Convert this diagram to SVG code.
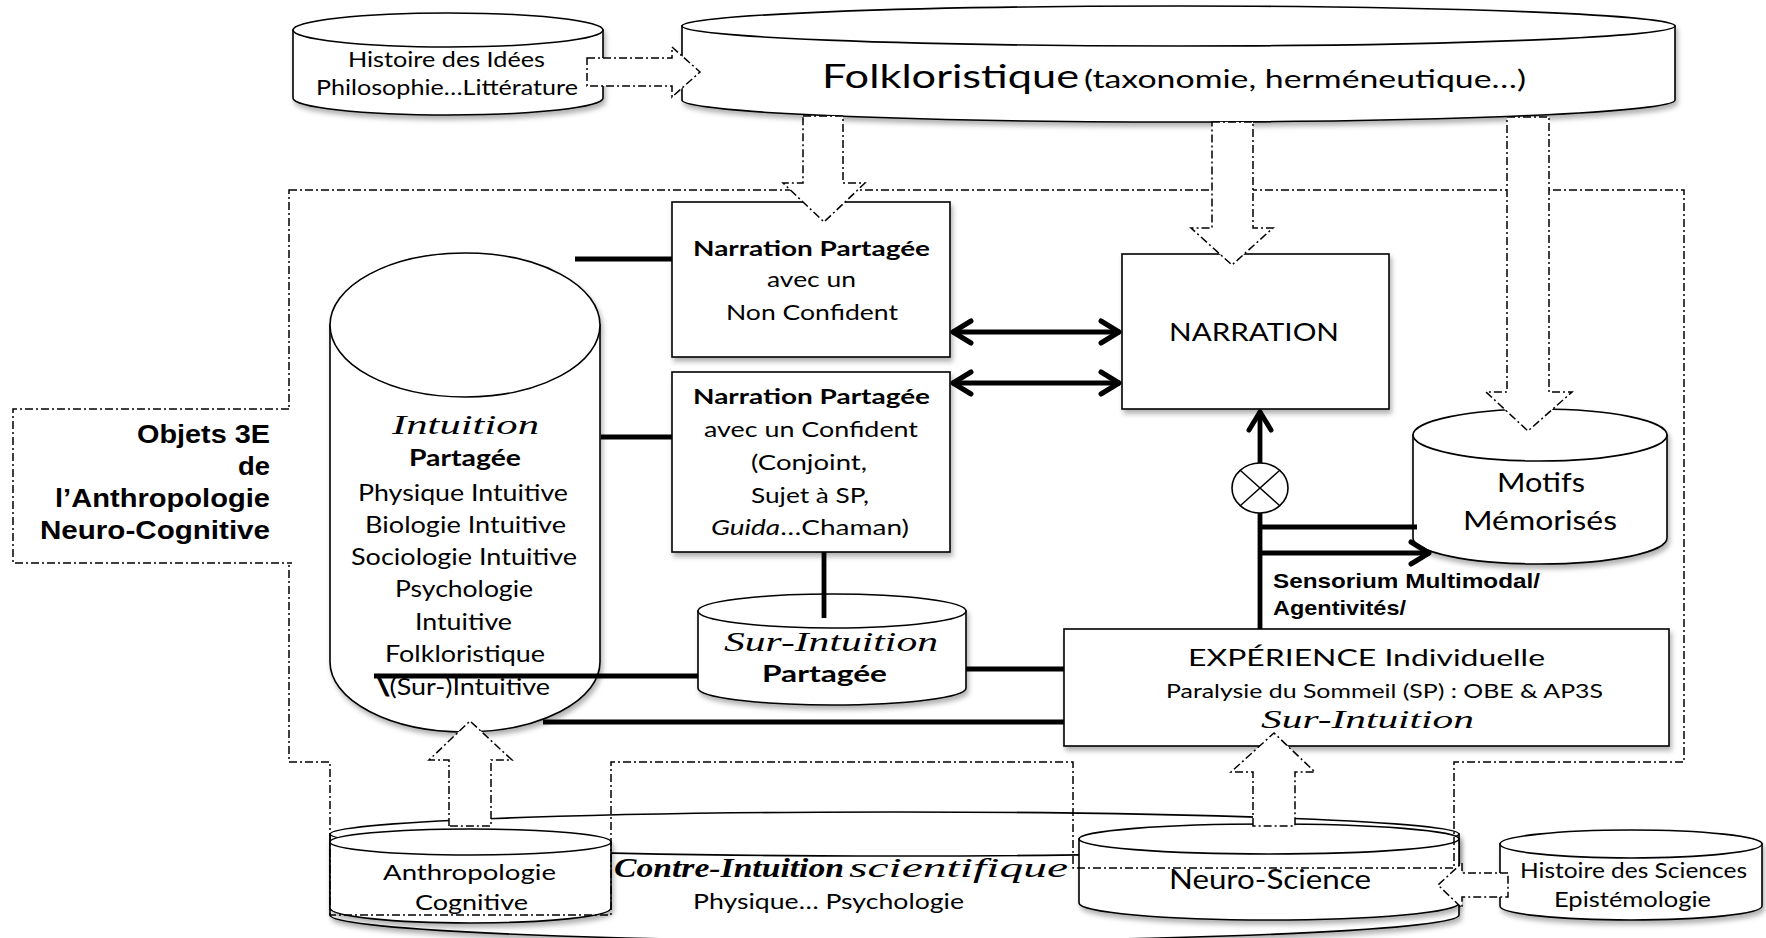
<svg xmlns="http://www.w3.org/2000/svg" width="1766" height="938" viewBox="0 0 1766 938">
<style>
.o{fill:#fff;stroke:#000;stroke-width:1.6}
.t{font-family:Lato,"Open Sans","Liberation Sans",sans-serif;fill:#000}
.b{font-weight:bold}
.s{font-family:"Liberation Serif","DejaVu Serif",serif;font-style:italic;fill:#000}
.a{font-family:"Liberation Sans",Arial,sans-serif;font-weight:bold;fill:#000}
.dd{fill:none;stroke:#000;stroke-width:1.5;stroke-dasharray:8 3 2 3}
.ba{fill:#fff;stroke:#000;stroke-width:1.5;stroke-dasharray:8 3 2 3}
.th{fill:none;stroke:#000;stroke-width:4.8}
.sh{filter:url(#sh)}
</style>
<defs>
<filter id="sh" x="-5%" y="-10%" width="115%" height="140%">
<feDropShadow dx="2" dy="4" stdDeviation="2.5" flood-color="#000" flood-opacity="0.3"/>
</filter>
<marker id="ah" viewBox="-24 -14 28 28" refX="0" refY="0" markerWidth="28" markerHeight="28" markerUnits="userSpaceOnUse" orient="auto-start-reverse">
<path d="M-19,-11 L-1,0 L-19,11" fill="none" stroke="#000" stroke-width="5" stroke-linecap="round" stroke-linejoin="round"/>
</marker>
</defs>
<rect width="1766" height="938" fill="#fff"/>

<g id="contre-intuition">
<g class="sh">
<path class="o" d="M330,834 V915 A564.5,26 0 0 0 1459,915 V834 Z"/>
<ellipse class="o" cx="894.5" cy="834" rx="564.5" ry="22"/>
</g>
<text class="s b" x="614" y="877" font-size="27" textLength="230" lengthAdjust="spacingAndGlyphs">Contre-Intuition</text>
<text class="s" x="849" y="877" font-size="27" textLength="219" lengthAdjust="spacingAndGlyphs">scientifique</text>
<text class="t" x="693" y="909" font-size="21" textLength="271" lengthAdjust="spacingAndGlyphs">Physique… Psychologie</text>
</g>

<g id="anthropologie">
<g class="sh">
<path class="o" d="M330,842 V908 A140.5,15 0 0 0 611,908 V842 Z"/>
<ellipse class="o" cx="470.5" cy="842" rx="140.5" ry="13"/>
</g>
<text class="t" x="383" y="880" font-size="22" textLength="173" lengthAdjust="spacingAndGlyphs">Anthropologie</text>
<text class="t" x="415" y="910" font-size="22" textLength="113" lengthAdjust="spacingAndGlyphs">Cognitive</text>
</g>

<g id="neuro-science">
<g class="sh">
<path class="o" d="M1079,839 V903 A190,17 0 0 0 1459,903 V839 Z"/>
<ellipse class="o" cx="1269" cy="839" rx="190" ry="15"/>
</g>
<text class="t" x="1169" y="889" font-size="27" textLength="202" lengthAdjust="spacingAndGlyphs">Neuro-Science</text>
</g>

<g id="histoire-sciences">
<g class="sh">
<path class="o" d="M1500,844 V906 A131,14 0 0 0 1762,906 V844 Z"/>
<ellipse class="o" cx="1631" cy="844" rx="131" ry="14"/>
</g>
<text class="t" x="1520" y="878" font-size="21" textLength="227" lengthAdjust="spacingAndGlyphs">Histoire des Sciences</text>
<text class="t" x="1554" y="907" font-size="21" textLength="157" lengthAdjust="spacingAndGlyphs">Epistémologie</text>
</g>

<g id="histoire-idees">
<g class="sh">
<path class="o" d="M293,30 V98 A155,17 0 0 0 603,98 V30 Z"/>
<ellipse class="o" cx="448" cy="30" rx="155" ry="17"/>
</g>
<text class="t" x="348" y="67" font-size="22" textLength="197" lengthAdjust="spacingAndGlyphs">Histoire des Idées</text>
<text class="t" x="316" y="95" font-size="22" textLength="262" lengthAdjust="spacingAndGlyphs">Philosophie…Littérature</text>
</g>

<g id="folkloristique">
<g class="sh">
<path class="o" d="M682,26 V100 A496.5,22 0 0 0 1675,100 V26 Z"/>
<ellipse class="o" cx="1178.5" cy="26" rx="496.5" ry="20"/>
</g>
<text class="t" x="822" y="88" font-size="33" textLength="257" lengthAdjust="spacingAndGlyphs">Folkloristique</text>
<text class="t" x="1084" y="88" font-size="25" textLength="442" lengthAdjust="spacingAndGlyphs">(taxonomie, herméneutique…)</text>
</g>

<g id="intuition">
<g class="sh">
<path class="o" d="M330,325 V662 A135,70 0 0 0 600,662 V325 Z"/>
<ellipse class="o" cx="465" cy="325" rx="135" ry="72"/>
</g>
<text class="s" x="392" y="434" font-size="28" textLength="147" lengthAdjust="spacingAndGlyphs">Intuition</text>
<text class="t b" x="409" y="466" font-size="22" textLength="112" lengthAdjust="spacingAndGlyphs">Partagée</text>
<text class="t" x="358" y="501" font-size="23" textLength="210" lengthAdjust="spacingAndGlyphs">Physique Intuitive</text>
<text class="t" x="365" y="533" font-size="23" textLength="201" lengthAdjust="spacingAndGlyphs">Biologie Intuitive</text>
<text class="t" x="351" y="565" font-size="23" textLength="226" lengthAdjust="spacingAndGlyphs">Sociologie Intuitive</text>
<text class="t" x="395" y="597" font-size="23" textLength="138" lengthAdjust="spacingAndGlyphs">Psychologie</text>
<text class="t" x="415" y="630" font-size="23" textLength="97" lengthAdjust="spacingAndGlyphs">Intuitive</text>
<text class="t" x="385" y="662" font-size="23" textLength="160" lengthAdjust="spacingAndGlyphs">Folkloristique</text>
<text class="t" x="377" y="695" font-size="23" textLength="173" lengthAdjust="spacingAndGlyphs"><tspan font-weight="bold" stroke="#000" stroke-width="1">\</tspan>(Sur-)Intuitive</text>
</g>

<g id="narration-non-confident">
<rect class="o sh" x="672" y="202" width="278" height="155"/>
<text class="t b" x="693" y="256" font-size="21.5" textLength="237" lengthAdjust="spacingAndGlyphs">Narration Partagée</text>
<text class="t" x="767" y="287" font-size="21.5" textLength="89" lengthAdjust="spacingAndGlyphs">avec un</text>
<text class="t" x="726" y="320" font-size="21.5" textLength="172" lengthAdjust="spacingAndGlyphs">Non Confident</text>
</g>

<g id="narration-confident">
<rect class="o sh" x="672" y="372" width="278" height="180"/>
<text class="t b" x="693" y="404" font-size="21.5" textLength="237" lengthAdjust="spacingAndGlyphs">Narration Partagée</text>
<text class="t" x="704" y="437" font-size="21.5" textLength="214" lengthAdjust="spacingAndGlyphs">avec un Confident</text>
<text class="t" x="751" y="470" font-size="21.5" textLength="116" lengthAdjust="spacingAndGlyphs">(Conjoint,</text>
<text class="t" x="751" y="503" font-size="21.5" textLength="118" lengthAdjust="spacingAndGlyphs">Sujet à SP,</text>
<text class="t" x="711" y="535" font-size="21.5" textLength="198" lengthAdjust="spacingAndGlyphs"><tspan font-style="italic">Guida</tspan>…Chaman)</text>
</g>

<g id="sur-intuition-partagee">
<g class="sh">
<path class="o" d="M698,611 V688 A134,17 0 0 0 966,688 V611 Z"/>
<ellipse class="o" cx="832" cy="611" rx="134" ry="17"/>
</g>
<text class="s" x="724" y="651" font-size="27" textLength="214" lengthAdjust="spacingAndGlyphs">Sur-Intuition</text>
<text class="t b" x="762" y="682" font-size="22" textLength="125" lengthAdjust="spacingAndGlyphs">Partagée</text>
</g>

<g id="narration">
<rect class="o sh" x="1122" y="254" width="267" height="155"/>
<text class="t" x="1169" y="341" font-size="25.5" textLength="170" lengthAdjust="spacingAndGlyphs">NARRATION</text>
</g>

<g id="motifs">
<g class="sh">
<path class="o" d="M1413,435 V538 A127,26 0 0 0 1667,538 V435 Z"/>
<ellipse class="o" cx="1540" cy="435" rx="127" ry="26"/>
</g>
<text class="t" x="1497" y="492" font-size="26.5" textLength="88" lengthAdjust="spacingAndGlyphs">Motifs</text>
<text class="t" x="1463" y="530" font-size="26.5" textLength="154" lengthAdjust="spacingAndGlyphs">Mémorisés</text>
</g>

<g id="experience">
<rect class="o sh" x="1064" y="629" width="605" height="117"/>
<text class="t" x="1188" y="666" font-size="22.5" textLength="357" lengthAdjust="spacingAndGlyphs">EXPÉRIENCE Individuelle</text>
<text class="t" x="1166" y="698" font-size="19.5" textLength="437" lengthAdjust="spacingAndGlyphs">Paralysie du Sommeil (SP) : OBE &amp; AP3S</text>
<text class="s" x="1261" y="728" font-size="26" textLength="213" lengthAdjust="spacingAndGlyphs">Sur-Intuition</text>
</g>

<g id="combine">
<ellipse class="o" cx="1260" cy="488" rx="28" ry="25"/>
<path d="M1240.2,470.3 L1279.8,505.7 M1279.8,470.3 L1240.2,505.7" stroke="#000" stroke-width="1.4"/>
</g>

<g id="sensorium-label">
<text class="a" x="1273" y="588" font-size="20.5" textLength="267" lengthAdjust="spacingAndGlyphs">Sensorium Multimodal/</text>
<text class="a" x="1273" y="615" font-size="20.5" textLength="133" lengthAdjust="spacingAndGlyphs">Agentivités/</text>
</g>

<g id="connectors">
<path class="th" d="M575,259 H672"/>
<path class="th" d="M601,437 H672"/>
<path class="th" d="M824,552 V618"/>
<path class="th" d="M374,676 H698"/>
<path class="th" d="M966,669 H1064"/>
<path class="th" d="M543,722 H1064"/>
<path class="th" d="M952,332 H1120" marker-start="url(#ah)" marker-end="url(#ah)"/>
<path class="th" d="M952,383 H1120" marker-start="url(#ah)" marker-end="url(#ah)"/>
<path class="th" d="M1260,629 V513"/>
<path class="th" d="M1260,463 V411" marker-end="url(#ah)"/>
<path class="th" d="M1260,527 H1417"/>
<path class="th" d="M1260,553 H1430" marker-end="url(#ah)"/>
</g>

<g id="frame">
<path class="dd" d="M289,190 H1684 V762 H1454 V868 H1073 V762 H611 V915 H330 V762 H289 Z"/>
</g>

<g id="objets">
<rect x="11" y="408" width="284" height="156" fill="#fff"/>
<path class="dd" d="M289,409 H13 V563 H292"/>
<text class="a" x="137" y="443" font-size="26" textLength="133" lengthAdjust="spacingAndGlyphs">Objets 3E</text>
<text class="a" x="238" y="475" font-size="26" textLength="32" lengthAdjust="spacingAndGlyphs">de</text>
<text class="a" x="55" y="507" font-size="26" textLength="215" lengthAdjust="spacingAndGlyphs">l’Anthropologie</text>
<text class="a" x="40" y="539" font-size="26" textLength="230" lengthAdjust="spacingAndGlyphs">Neuro-Cognitive</text>
</g>

<g id="block-arrows">
<path class="ba" d="M587,58 H672 V47 L700,72 L672,97 V86 H587 Z"/>
<path class="ba" d="M803,116 H843 V183 H865 L824,222 L783,183 H803 Z"/>
<path class="ba" d="M1212,122 H1253 V228 H1273 L1232,265 L1191,228 H1212 Z"/>
<path class="ba" d="M1507,117 H1549 V392 H1572 L1528,431 L1486,392 H1507 Z"/>
<path class="ba" d="M449,826 V760 H429 L470,721 L512,760 H491 V826 Z"/>
<path class="ba" d="M1253,826 V772 H1231 L1274,733 L1315,772 H1295 V826 Z"/>
<path class="ba" d="M1508,873 H1462 V863 L1438,885 L1462,908 V897 H1508 Z"/>
</g>
</svg>
